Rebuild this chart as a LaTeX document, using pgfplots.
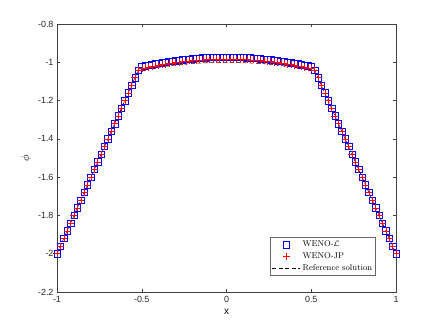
\documentclass[border=0pt]{standalone}
\usepackage{fontspec}
\usepackage{pgfplots}
\pgfplotsset{compat=1.18}
\usepackage{pgfplotstable}
\newfontfamily\helv{Liberation Sans}

% WENO-L (blue squares)
\pgfplotstableread{
x y
-1.00 -2.000
-0.98 -1.960
-0.96 -1.920
-0.94 -1.880
-0.92 -1.840
-0.90 -1.800
-0.88 -1.760
-0.86 -1.720
-0.84 -1.680
-0.82 -1.640
-0.80 -1.600
-0.78 -1.560
-0.76 -1.520
-0.74 -1.480
-0.72 -1.440
-0.70 -1.400
-0.68 -1.360
-0.66 -1.320
-0.64 -1.280
-0.62 -1.240
-0.60 -1.200
-0.58 -1.160
-0.56 -1.120
-0.54 -1.080
-0.52 -1.040
-0.50 -1.023
-0.48 -1.019
-0.46 -1.015
-0.44 -1.012
-0.42 -1.008
-0.40 -1.005
-0.38 -1.002
-0.36 -0.999
-0.34 -0.996
-0.32 -0.993
-0.30 -0.991
-0.28 -0.989
-0.26 -0.987
-0.24 -0.985
-0.22 -0.983
-0.20 -0.981
-0.18 -0.979
-0.16 -0.978
-0.14 -0.977
-0.12 -0.976
-0.10 -0.975
-0.08 -0.974
-0.06 -0.974
-0.04 -0.973
-0.02 -0.973
0.00 -0.973
0.02 -0.973
0.04 -0.973
0.06 -0.974
0.08 -0.974
0.10 -0.975
0.12 -0.976
0.14 -0.977
0.16 -0.978
0.18 -0.979
0.20 -0.981
0.22 -0.983
0.24 -0.985
0.26 -0.987
0.28 -0.989
0.30 -0.991
0.32 -0.993
0.34 -0.996
0.36 -0.999
0.38 -1.002
0.40 -1.005
0.42 -1.008
0.44 -1.012
0.46 -1.015
0.48 -1.019
0.50 -1.023
0.52 -1.040
0.54 -1.080
0.56 -1.120
0.58 -1.160
0.60 -1.200
0.62 -1.240
0.64 -1.280
0.66 -1.320
0.68 -1.360
0.70 -1.400
0.72 -1.440
0.74 -1.480
0.76 -1.520
0.78 -1.560
0.80 -1.600
0.82 -1.640
0.84 -1.680
0.86 -1.720
0.88 -1.760
0.90 -1.800
0.92 -1.840
0.94 -1.880
0.96 -1.920
0.98 -1.960
1.00 -2.000
}\wenol

% WENO-JP (red plus)
\pgfplotstableread{
x y
-1.00 -2.000
-0.98 -1.960
-0.96 -1.920
-0.94 -1.880
-0.92 -1.840
-0.90 -1.800
-0.88 -1.760
-0.86 -1.720
-0.84 -1.680
-0.82 -1.640
-0.80 -1.600
-0.78 -1.560
-0.76 -1.520
-0.74 -1.480
-0.72 -1.440
-0.70 -1.400
-0.68 -1.360
-0.66 -1.320
-0.64 -1.280
-0.62 -1.240
-0.60 -1.200
-0.58 -1.160
-0.56 -1.120
-0.54 -1.080
-0.52 -1.040
-0.50 -1.033
-0.48 -1.029
-0.46 -1.025
-0.44 -1.022
-0.42 -1.018
-0.40 -1.015
-0.38 -1.012
-0.36 -1.009
-0.34 -1.006
-0.32 -1.003
-0.30 -1.001
-0.28 -0.999
-0.26 -0.997
-0.24 -0.995
-0.22 -0.993
-0.20 -0.991
-0.18 -0.989
-0.16 -0.988
-0.14 -0.987
-0.12 -0.986
-0.10 -0.985
-0.08 -0.984
-0.06 -0.984
-0.04 -0.983
-0.02 -0.983
0.00 -0.983
0.02 -0.983
0.04 -0.983
0.06 -0.984
0.08 -0.984
0.10 -0.985
0.12 -0.986
0.14 -0.987
0.16 -0.988
0.18 -0.989
0.20 -0.991
0.22 -0.993
0.24 -0.995
0.26 -0.997
0.28 -0.999
0.30 -1.001
0.32 -1.003
0.34 -1.006
0.36 -1.009
0.38 -1.012
0.40 -1.015
0.42 -1.018
0.44 -1.022
0.46 -1.025
0.48 -1.029
0.50 -1.033
0.52 -1.040
0.54 -1.080
0.56 -1.120
0.58 -1.160
0.60 -1.200
0.62 -1.240
0.64 -1.280
0.66 -1.320
0.68 -1.360
0.70 -1.400
0.72 -1.440
0.74 -1.480
0.76 -1.520
0.78 -1.560
0.80 -1.600
0.82 -1.640
0.84 -1.680
0.86 -1.720
0.88 -1.760
0.90 -1.800
0.92 -1.840
0.94 -1.880
0.96 -1.920
0.98 -1.960
1.00 -2.000
}\wenojp

% reference solution
\pgfplotstableread{
x y
-1.000 -2.000
-0.522 -1.044
-0.500 -1.040
-0.450 -1.032
-0.400 -1.026
-0.300 -1.014
-0.200 -1.006
-0.100 -1.002
0.000 -1.000
0.100 -1.002
0.200 -1.006
0.300 -1.014
0.400 -1.026
0.450 -1.032
0.500 -1.040
0.522 -1.044
1.000 -2.000
}\refsol

\begin{document}
\begin{tikzpicture}
\begin{axis}[
  at={(0,0)}, anchor=south west,
  scale only axis,
  width=339bp, height=268bp,
  xmin=-1, xmax=1, ymin=-2.2, ymax=-0.8,
  xtick={-1,-0.5,0,0.5,1},
  ytick={-2.2,-2,-1.8,-1.6,-1.4,-1.2,-1,-0.8},
  xticklabels={-1,-0.5,0,0.5,1},
  yticklabels={-2.2,-2,-1.8,-1.6,-1.4,-1.2,-1,-0.8},
  tick align=inside,
  major tick length=3.5bp,
  axis line style={black!75, line width=0.5bp},
  every tick/.style={black!75, line width=0.5bp},
  tick label style={font=\helv\fontsize{9}{10}\selectfont, text=black!85},
  xticklabel style={yshift=-1bp},
  xlabel={x},
  ylabel={$\phi$},
  x label style={font=\helv\fontsize{10}{11}\selectfont, at={(axis description cs:0.5,-0.075)}, anchor=center},
  y label style={font=\fontsize{11}{12}\selectfont, at={(axis description cs:-0.091,0.5)}, anchor=center, rotate=0},
  legend style={at={(axis description cs:0.941,0.06)}, anchor=south east,
    font=\fontsize{8.5}{10}\selectfont, draw=black!60, line width=0.5bp,
    inner sep=1.5pt, row sep=0.5pt},
  legend cell align=left,
  legend image code/.code={\draw[mark repeat=2,mark phase=2,#1] plot coordinates {(0cm,0cm) (0.5cm,0cm) (1cm,0cm)};},
]
\addplot[only marks, mark=square, mark size=3.2bp, mark options={blue, line width=0.45bp}] table {\wenol};
\addlegendentry{WENO-$\mathcal{L}$}
\addplot[only marks, mark=+, mark size=3.5bp, mark options={red, line width=0.45bp}] table {\wenojp};
\addlegendentry{WENO-JP}
\addplot[black, line width=0.5bp, dash pattern=on 4bp off 2.5bp] table {\refsol};
\addlegendentry{Reference solution}
\end{axis}
\path[use as bounding box] (-57bp,-36bp) rectangle (381bp,292bp);
\end{tikzpicture}
\end{document}
